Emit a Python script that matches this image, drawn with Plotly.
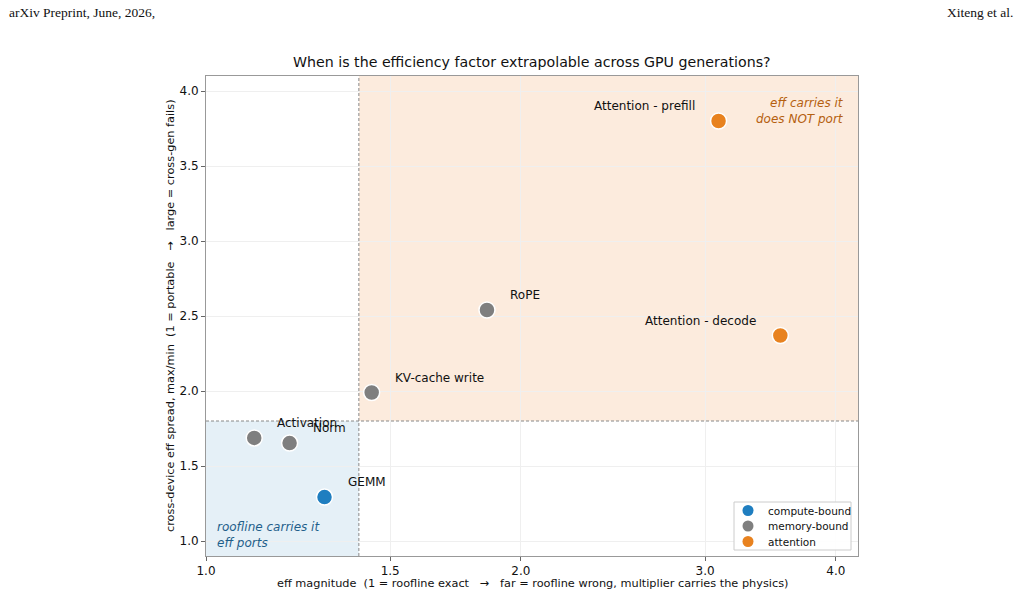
import math
import plotly.graph_objects as go

# ---- data ----
names = ["GEMM", "Activation", "Norm", "KV-cache write", "RoPE", "Attention - prefill", "Attention - decode"]
eff_mag = [1.298, 1.112, 1.202, 1.44, 1.856, 3.09, 3.54]
spread = [1.293, 1.687, 1.653, 1.99, 2.54, 3.80, 2.37]
kind = ["compute-bound", "memory-bound", "memory-bound", "memory-bound", "memory-bound", "attention", "attention"]
label_side = ["right", "right", "right", "right", "right", "left", "left"]
groups = ["compute-bound", "memory-bound", "attention"]
group_colors = {"compute-bound": "#1f7ec0", "memory-bound": "#7f7f7f", "attention": "#e8821f"}
x_thresh = 1.4
y_thresh = 1.8
x_ticks = [1.0, 1.5, 2.0, 3.0, 4.0]
x_ticktext = ["1.0", "1.5", "2.0", "3.0", "4.0"]
y_ticks = [1.0, 1.5, 2.0, 2.5, 3.0, 3.5, 4.0]

W, H = 1021, 597
L, R, T, B = 206, 858, 76, 556
pw, ph = R - L, B - T

def px(x):
    return (x - L) / pw

def py(y):
    return (B - y) / ph

NB = "\u00a0"

fig = go.Figure()
for g in groups:
    xs = [x for x, k in zip(eff_mag, kind) if k == g]
    ys = [y for y, k in zip(spread, kind) if k == g]
    fig.add_trace(go.Scatter(
        x=xs, y=ys, mode="markers", name=g, showlegend=False,
        marker=dict(size=16, color=group_colors[g], line=dict(color="white", width=1.5)),
    ))

xmin, xmax = 1.0, 4.2
ymin, ymax = 0.9, 4.1

shapes = [
    dict(type="rect", xref="x", yref="y", x0=xmin, x1=x_thresh, y0=ymin, y1=y_thresh,
         fillcolor="#e5f0f7", line=dict(width=0), layer="below"),
    dict(type="rect", xref="x", yref="y", x0=x_thresh, x1=xmax, y0=y_thresh, y1=ymax,
         fillcolor="#fcebdd", line=dict(width=0), layer="below"),
    dict(type="line", xref="x", yref="paper", x0=x_thresh, x1=x_thresh, y0=0, y1=1,
         line=dict(color="#888888", width=1, dash="3px,2px")),
    dict(type="line", xref="paper", yref="y", x0=0, x1=1, y0=y_thresh, y1=y_thresh,
         line=dict(color="#888888", width=1, dash="3px,2px")),
]

annotations = []
for n, x, y, side in zip(names, eff_mag, spread, label_side):
    annotations.append(dict(
        x=math.log10(x), y=y, xref="x", yref="y", text=n, showarrow=False,
        xanchor="left" if side == "right" else "right", yanchor="middle",
        xshift=21 if side == "right" else -22, yshift=15,
        font=dict(size=12, color="#111111", family="DejaVu Sans"),
    ))

# legend (manual, matplotlib-like)
lg_x0, lg_x1, lg_y0, lg_y1 = 734, 851, 502, 550
shapes.append(dict(type="rect", xref="paper", yref="paper",
                   x0=px(lg_x0), x1=px(lg_x1), y0=py(lg_y1), y1=py(lg_y0),
                   fillcolor="rgba(255,255,255,0.9)", line=dict(color="#cccccc", width=1)))
for i, g in enumerate(groups):
    cy = 510.5 + i * 15.5
    r = 5.5
    shapes.append(dict(type="circle", xref="paper", yref="paper",
                       x0=px(748 - r), x1=px(748 + r), y0=py(cy + r), y1=py(cy - r),
                       fillcolor=group_colors[g], line=dict(color=group_colors[g], width=0)))
    annotations.append(dict(x=px(766), y=py(cy), xref="paper", yref="paper", showarrow=False,
                            text=g, xanchor="left", yanchor="middle",
                            font=dict(size=10.5, color="#111111", family="DejaVu Sans")))

annotations += [
    dict(x=px(846), y=py(111), xref="paper", yref="paper", showarrow=False,
         text="<i>eff carries it<br>does NOT port</i>", align="right",
         xanchor="right", yanchor="middle",
         font=dict(size=12, color="#b5600f", family="DejaVu Sans")),
    dict(x=px(215), y=py(535), xref="paper", yref="paper", showarrow=False,
         text="<i>roofline carries it<br>eff ports</i>", align="left",
         xanchor="left", yanchor="middle",
         font=dict(size=12, color="#1f5f8b", family="DejaVu Sans")),
    dict(x=0.5, y=py(62), xref="paper", yref="paper", showarrow=False,
         text="When is the efficiency factor extrapolable across GPU generations?",
         xanchor="center", yanchor="middle",
         font=dict(size=14.2, color="#111111", family="DejaVu Sans")),
    dict(x=0.5, y=py(583), xref="paper", yref="paper", showarrow=False,
         text="eff magnitude" + NB * 2 + "(1 = roofline exact" + NB * 3 + "\u2192" + NB * 3
              + "far = roofline wrong, multiplier carries the physics)",
         xanchor="center", yanchor="middle",
         font=dict(size=11.3, color="#111111", family="DejaVu Sans")),
    dict(x=px(170), y=py(316), xref="paper", yref="paper", showarrow=False,
         text="cross-device eff spread, max/min" + NB * 2 + "(1 = portable" + NB * 3 + "\u2192"
              + NB * 3 + "large = cross-gen fails)",
         textangle=-90, xanchor="center", yanchor="middle",
         font=dict(size=11.3, color="#111111", family="DejaVu Sans")),
    dict(x=px(7), y=py(12), xref="paper", yref="paper", showarrow=False,
         text="arXiv Preprint, June, 2026,", xanchor="left", yanchor="middle",
         font=dict(size=13.5, color="#111111", family="Liberation Serif")),
    dict(x=px(1015), y=py(12), xref="paper", yref="paper", showarrow=False,
         text="Xiteng et al.", xanchor="right", yanchor="middle",
         font=dict(size=13.5, color="#111111", family="Liberation Serif")),
]

fig.update_layout(
    width=W, height=H, autosize=False,
    margin=dict(l=L, r=W - R, t=T, b=H - B),
    paper_bgcolor="white", plot_bgcolor="white",
    shapes=shapes, annotations=annotations,
    font=dict(family="DejaVu Sans", color="#111111"),
    showlegend=False,
)
fig.update_xaxes(type="log", range=[math.log10(xmin), math.log10(xmax)],
                 tickvals=x_ticks, ticktext=x_ticktext, showgrid=True, gridcolor="#efefef",
                 zeroline=False, showline=True, linecolor="#999999", mirror=True,
                 ticks="outside", ticklen=4, tickcolor="#666666",
                 tickfont=dict(size=12, color="#111111"))
fig.update_yaxes(range=[ymin, ymax], tickvals=y_ticks, ticktext=["%.1f" % v for v in y_ticks],
                 showgrid=True, gridcolor="#efefef", zeroline=False, showline=True,
                 linecolor="#999999", mirror=True, ticks="outside", ticklen=4, tickcolor="#666666",
                 tickfont=dict(size=12, color="#111111"))

fig.write_html("out.html")
